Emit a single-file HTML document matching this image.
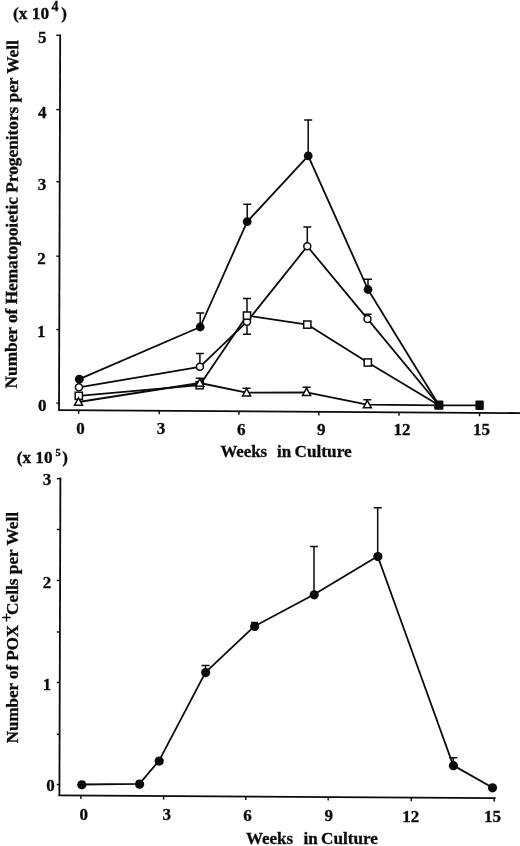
<!DOCTYPE html>
<html><head><meta charset="utf-8"><title>Figure</title>
<style>html,body{margin:0;padding:0;background:#fff;}svg{display:block;}text{font-family:'Liberation Serif', serif;font-weight:bold;fill:#0a0a0a;stroke:#0a0a0a;stroke-width:0.3;}.ln{stroke:#0a0a0a;stroke-width:1.8;fill:none;stroke-linejoin:round;stroke-linecap:butt;}.ax{stroke:#0a0a0a;stroke-width:1.8;fill:none;}.tk{stroke:#0a0a0a;stroke-width:1.4;fill:none;}.eb{stroke:#0a0a0a;stroke-width:1.5;fill:none;}.mo{stroke:#0a0a0a;stroke-width:1.5;fill:#fff;}.mf{stroke:none;fill:#0a0a0a;}</style></head><body>
<svg width="520" height="846" viewBox="0 0 520 846">
<rect x="0" y="0" width="520" height="846" fill="#fff"/>
<path class="ax" d="M60.2 34.6L59.0 410.6"/>
<path class="ax" d="M58.2 410.1L520 413.1"/>
<path class="tk" d="M56.3 35.3H60"/>
<path class="tk" d="M56.3 109.6H60"/>
<path class="tk" d="M56.3 181.7H60"/>
<path class="tk" d="M56.3 256.2H60"/>
<path class="tk" d="M56.3 329.6H60"/>
<path class="tk" d="M56.3 403.1H60"/>
<path class="tk" d="M78.7 410.2V413.8"/>
<path class="tk" d="M159.2 410.6V414.2"/>
<path class="tk" d="M239.0 411.2V414.8"/>
<path class="tk" d="M318.8 411.8V415.4"/>
<path class="tk" d="M399.0 412.2V415.8"/>
<path class="tk" d="M479.5 412.7V416.3"/>
<text x="42.3" y="43.1" font-size="17" text-anchor="middle">5</text>
<text x="42.2" y="117.7" font-size="17" text-anchor="middle">4</text>
<text x="41.9" y="190.1" font-size="17" text-anchor="middle">3</text>
<text x="41.6" y="264.1" font-size="17" text-anchor="middle">2</text>
<text x="41.2" y="337.3" font-size="17" text-anchor="middle">1</text>
<text x="42.3" y="411.0" font-size="17" text-anchor="middle">0</text>
<text x="80.6" y="433.6" font-size="17" text-anchor="middle">0</text>
<text x="161.0" y="434.0" font-size="17" text-anchor="middle">3</text>
<text x="241.2" y="434.7" font-size="17" text-anchor="middle">6</text>
<text x="321.2" y="435.0" font-size="17" text-anchor="middle">9</text>
<text x="402.0" y="435.0" font-size="17" text-anchor="middle">12</text>
<text x="481.6" y="435.3" font-size="17" text-anchor="middle">15</text>
<text x="220.4" y="456.8" font-size="17" text-anchor="start" textLength="46.8" lengthAdjust="spacingAndGlyphs">Weeks</text>
<text x="277.0" y="456.8" font-size="17" text-anchor="start">in</text>
<text x="294.6" y="456.8" font-size="17" text-anchor="start" textLength="57.0" lengthAdjust="spacingAndGlyphs">Culture</text>
<text x="12.9" y="19.3" font-size="17.5" text-anchor="start" textLength="36.2" lengthAdjust="spacingAndGlyphs">(x 10</text>
<text x="51.6" y="11.0" font-size="14" text-anchor="start">4</text>
<text x="61.2" y="19.3" font-size="17" text-anchor="start">)</text>
<text transform="translate(16.7 388.4) rotate(-89.74)" font-size="17" text-anchor="start" textLength="348.2" lengthAdjust="spacingAndGlyphs">Number of Hematopoietic Progenitors per Well</text>
<polyline class="ln" points="78.5,402.0 199.8,383.0 246.6,392.7 306.6,392.3 367.3,404.6 439.0,405.3 479.6,405.3"/>
<polyline class="ln" points="78.8,395.8 199.7,385.2 247.0,315.6 307.3,324.6 367.8,362.5 439.0,405.3"/>
<polyline class="ln" points="78.9,387.3 199.9,366.8 247.0,321.7 307.3,246.3 367.5,318.9 439.0,405.3"/>
<polyline class="ln" points="79.3,379.2 200.2,327.0 247.2,221.7 308.2,155.8 368.0,289.5 439.0,405.3"/>
<path class="eb" d="M200.2 327.0V313.0M196.2 313.0H204.2"/>
<path class="eb" d="M247.2 221.7V204.2M243.2 204.2H251.2"/>
<path class="eb" d="M308.2 155.8V120.0M304.2 120.0H312.2"/>
<path class="eb" d="M368.0 289.5V279.2M364.0 279.2H372.0"/>
<path class="eb" d="M199.9 366.8V353.5M195.9 353.5H203.9"/>
<path class="eb" d="M247.0 321.7V334.2M243.0 334.2H251.0"/>
<path class="eb" d="M307.3 246.3V227.0M303.3 227.0H311.3"/>
<path class="eb" d="M367.5 318.9V314.2M363.5 314.2H371.5"/>
<path class="eb" d="M247.0 315.6V298.6M243.0 298.6H251.0"/>
<path class="eb" d="M199.8 383.0V378.3M195.8 378.3H203.8"/>
<path class="eb" d="M246.6 392.7V388.2M242.6 388.2H250.6"/>
<path class="eb" d="M306.6 392.3V387.2M302.6 387.2H310.6"/>
<path class="eb" d="M367.3 404.6V399.7M363.3 399.7H371.3"/>
<circle class="mo" cx="78.9" cy="387.3" r="3.5"/>
<circle class="mo" cx="199.9" cy="366.8" r="3.5"/>
<circle class="mo" cx="247.0" cy="321.7" r="3.5"/>
<circle class="mo" cx="307.3" cy="246.3" r="3.5"/>
<circle class="mo" cx="367.5" cy="318.9" r="3.5"/>
<rect class="mo" x="75.2" y="392.2" width="7.2" height="7.2"/>
<rect class="mo" x="196.1" y="381.6" width="7.2" height="7.2"/>
<rect class="mo" x="243.4" y="312.0" width="7.2" height="7.2"/>
<rect class="mo" x="303.7" y="321.0" width="7.2" height="7.2"/>
<rect class="mo" x="364.2" y="358.9" width="7.2" height="7.2"/>
<path class="mo" d="M78.5 397.8L82.5 405.2L74.5 405.2Z"/>
<path class="mo" d="M199.8 378.8L203.8 386.2L195.8 386.2Z"/>
<path class="mo" d="M246.6 388.5L250.6 395.9L242.6 395.9Z"/>
<path class="mo" d="M306.6 388.1L310.6 395.5L302.6 395.5Z"/>
<path class="mo" d="M367.3 400.4L371.3 407.8L363.3 407.8Z"/>
<circle class="mf" cx="79.3" cy="379.2" r="4.4"/>
<circle class="mf" cx="200.2" cy="327.0" r="4.4"/>
<circle class="mf" cx="247.2" cy="221.7" r="4.4"/>
<circle class="mf" cx="308.2" cy="155.8" r="4.4"/>
<circle class="mf" cx="368.0" cy="289.5" r="4.4"/>
<path class="mf" d="M200.3 378.4L204 378.4L204 385Z"/>
<rect class="mf" x="434.2" y="400.5" width="9.2" height="9.2" rx="1.2"/>
<rect class="mf" x="475.4" y="400.4" width="8.4" height="9.6" rx="1.2"/>
<path class="ax" d="M60.4 477.6L59.4 795.8"/>
<path class="ax" d="M58.5 795.3L495.6 798.1"/>
<path class="tk" d="M56.8 478.7H60"/>
<path class="tk" d="M56.8 529.5H60"/>
<path class="tk" d="M56.8 580.5H60"/>
<path class="tk" d="M56.8 632.0H60"/>
<path class="tk" d="M56.8 682.5H60"/>
<path class="tk" d="M56.8 734.3H60"/>
<path class="tk" d="M56.8 784.5H60"/>
<path class="tk" d="M80.9 795.3V799.1"/>
<path class="tk" d="M163.6 795.8V799.6"/>
<path class="tk" d="M245.8 796.3V800.1"/>
<path class="tk" d="M328.2 796.8V800.6"/>
<path class="tk" d="M411.2 797.4V801.2"/>
<path class="tk" d="M494.2 798.0V801.8"/>
<text x="46.9" y="485.2" font-size="17" text-anchor="middle">3</text>
<text x="46.9" y="587.6" font-size="17" text-anchor="middle">2</text>
<text x="46.9" y="689.9" font-size="17" text-anchor="middle">1</text>
<text x="50.6" y="791.3" font-size="17" text-anchor="middle">0</text>
<text x="83.8" y="819.8" font-size="17" text-anchor="middle">0</text>
<text x="166.7" y="819.8" font-size="17" text-anchor="middle">3</text>
<text x="247.5" y="820.8" font-size="17" text-anchor="middle">6</text>
<text x="328.8" y="821.3" font-size="17" text-anchor="middle">9</text>
<text x="410.8" y="821.5" font-size="17" text-anchor="middle">12</text>
<text x="492.6" y="822.0" font-size="17" text-anchor="middle">15</text>
<text x="245.9" y="843.5" font-size="17" text-anchor="start" textLength="47.2" lengthAdjust="spacingAndGlyphs">Weeks</text>
<text x="303.5" y="843.5" font-size="17" text-anchor="start">in</text>
<text x="321.1" y="843.5" font-size="17" text-anchor="start" textLength="56.8" lengthAdjust="spacingAndGlyphs">Culture</text>
<text x="16.7" y="462.9" font-size="17" text-anchor="start" textLength="35.8" lengthAdjust="spacingAndGlyphs">(x 10</text>
<text x="55.6" y="456.3" font-size="10.5" text-anchor="start">5</text>
<text x="62.2" y="462.6" font-size="17" text-anchor="start">)</text>
<text transform="translate(17.8 743.3) rotate(-90)" font-size="17" text-anchor="start" textLength="118.4" lengthAdjust="spacingAndGlyphs">Number of POX</text>
<text transform="translate(11.6 617.4) rotate(-90)" font-size="16" text-anchor="middle" style="font-weight:normal;stroke-width:0.5">+</text>
<text transform="translate(18.0 615) rotate(-90)" font-size="17" text-anchor="start" textLength="103" lengthAdjust="spacingAndGlyphs">Cells per Well</text>
<polyline class="ln" points="81.6,784.5 139.4,783.9 159.0,760.8 205.5,672.3 254.5,626.2 314.0,594.5 377.7,556.3 453.2,765.4 492.3,787.5"/>
<path class="eb" d="M139.4 783.9V781.2M135.9 781.2H142.9"/>
<path class="eb" d="M205.5 672.3V665.5M201.5 665.5H209.5"/>
<path class="eb" d="M254.5 626.2V622.6M251.0 622.6H258.0"/>
<path class="eb" d="M314.0 594.5V546.5M310.0 546.5H318.0"/>
<path class="eb" d="M377.7 556.3V507.7M373.7 507.7H381.7"/>
<path class="eb" d="M453.2 765.4V757.7M449.2 757.7H457.2"/>
<circle class="mf" cx="81.8" cy="784.8" r="4.6"/>
<circle class="mf" cx="139.6" cy="784.2" r="4.6"/>
<circle class="mf" cx="159.2" cy="761.1" r="4.6"/>
<circle class="mf" cx="205.7" cy="672.6" r="4.6"/>
<circle class="mf" cx="254.7" cy="626.5" r="4.6"/>
<circle class="mf" cx="314.2" cy="594.8" r="4.6"/>
<circle class="mf" cx="377.9" cy="556.6" r="4.6"/>
<circle class="mf" cx="453.4" cy="765.7" r="4.6"/>
<circle class="mf" cx="492.5" cy="787.8" r="4.6"/>
</svg></body></html>
